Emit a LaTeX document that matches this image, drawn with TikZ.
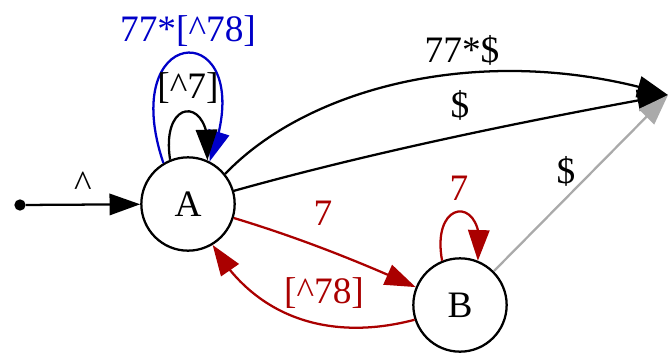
\documentclass[tikz,border=0pt]{standalone}
\usepackage{fontspec}
\setmainfont{Liberation Serif}
\usetikzlibrary{arrows.meta,bending}
\definecolor{cblue}{RGB}{0,0,200}
\definecolor{cred}{RGB}{170,0,0}
\definecolor{cgray}{RGB}{170,170,170}
\begin{document}
\begin{tikzpicture}[x=0.75pt,y=-0.75pt,
  state/.style={draw,circle,line width=1.7pt,minimum size=70pt,inner sep=0pt,font=\fontsize{28}{30}\selectfont},
  edge/.style={line width=1.7pt,-{Triangle[length=23pt,width=16pt]}},
  lbl/.style={anchor=base,inner sep=0pt,font=\fontsize{28}{30}\selectfont}]
\useasboundingbox (0,0) rectangle (668,357);
\node[state] (A) at (188,204) {A};
\node[state] (B) at (460,305) {B};
\node[circle,fill,inner sep=0pt,minimum size=8.5pt] (s) at (20,205) {};
\coordinate (e) at (668,95);
% start
\draw[edge] (s) -- (A);
\node[lbl] (l0) at (83,196) {\^{}};
% A loops
\draw[edge,cblue] (A.121) .. controls (114,16) and (266,16) .. (A.63);
\node[lbl,cblue] (l1) at (188,41) {77*[\^{}78]};
\draw[edge] (A.112) .. controls (160,95) and (215,95) .. (A.66);
\node[lbl] (l2) at (188,98) {[\^{}7]};
% A to end
\draw[edge] (A.39) .. controls (310,85) and (490,40) .. (e);
\node[lbl] (l3) at (462,62) {77*\$};
\draw[edge] (A.16) .. controls (380,150) and (540,118) .. (e);
\node[lbl] (l4) at (460,117) {\$};
% B to end
\draw[edge,cgray] (B.45) -- (e);
\node[lbl] (l5) at (566,183) {\$};
% A to B
\draw[edge,cred] (A.-17) .. controls (300,238) and (360,262) .. (B.158);
\node[lbl,cred] (l6) at (323,225) {7};
% B to A
\draw[edge,cred] (B.198) .. controls (330,342) and (255,318) .. (A.-59);
\node[lbl,cred] (l7) at (324,303) {[\^{}78]};
% B loop
\draw[edge,cred] (B.112) .. controls (430,195) and (490,195) .. (B.68);
\node[lbl,cred] (l8) at (459,200) {7};
\end{tikzpicture}
\end{document}
